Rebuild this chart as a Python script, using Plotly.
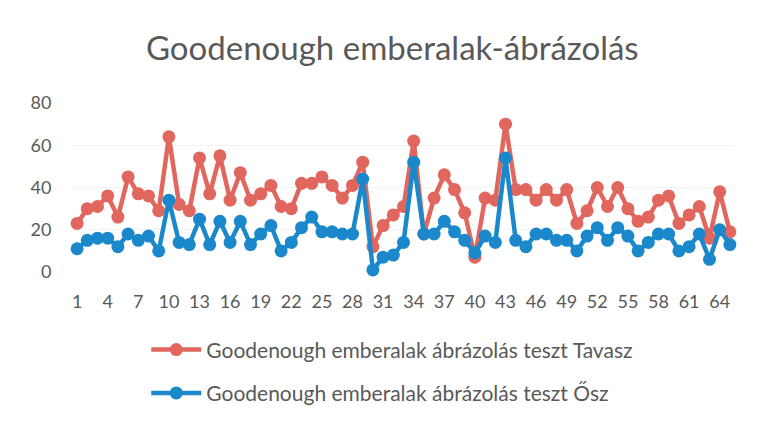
import plotly.graph_objects as go

x_vals = list(range(1, 66))
tavasz = [23, 30, 31, 36, 26, 45, 37, 36, 29, 64, 32, 29, 54, 37, 55, 34, 47, 34, 37, 41,
          31, 30, 42, 42, 45, 41, 35, 41, 52, 12, 22, 27, 31, 62, 18, 35, 46, 39, 28, 7,
          35, 34, 70, 39, 39, 34, 39, 34, 39, 23, 29, 40, 31, 40, 30, 24, 26, 34, 36, 23,
          27, 31, 16, 38, 19]
osz = [11, 15, 16, 16, 12, 18, 15, 17, 10, 34, 14, 13, 25, 13, 24, 14, 24, 13, 18, 22,
       10, 14, 21, 26, 19, 19, 18, 18, 44, 1, 7, 8, 14, 52, 18, 18, 24, 19, 15, 9,
       17, 14, 54, 15, 12, 18, 18, 15, 15, 10, 17, 21, 15, 21, 17, 10, 14, 18, 18, 10,
       12, 18, 6, 20, 13]
tick_vals = list(range(1, 66, 3))
y_ticks = [0, 20, 40, 60, 80]

red = "#E0665E"
blue = "#1B88CC"
grey = "#595959"
font = "Lato"

fig = go.Figure()
fig.add_trace(go.Scatter(x=x_vals, y=tavasz, mode="lines+markers",
                         name="Goodenough emberalak ábrázolás teszt Tavasz",
                         line=dict(color=red, width=4.5), marker=dict(size=13, color=red),
                         legendgroup="a", cliponaxis=False))
fig.add_trace(go.Scatter(x=x_vals, y=osz, mode="lines+markers",
                         name="Goodenough emberalak ábrázolás teszt Ősz",
                         line=dict(color=blue, width=4.5), marker=dict(size=13, color=blue),
                         legendgroup="b", cliponaxis=False))

fig.update_layout(
    width=758, height=423,
    paper_bgcolor="white", plot_bgcolor="white",
    margin=dict(l=64, r=31, t=95, b=159),
    title=dict(text="Goodenough emberalak-ábrázolás", x=0.507, xref="container",
               xanchor="center", y=1 - 40 / 423, yanchor="middle",
               font=dict(family=font, size=33, color=grey)),
    font=dict(family=font, color=grey, size=17),
    legend=dict(orientation="v", x=0.112, xanchor="left", y=-0.34, yanchor="top",
                font=dict(family=font, size=21, color=grey), traceorder="grouped",
                tracegroupgap=13, itemwidth=50),
    showlegend=True,
)
fig.update_xaxes(range=[0.5, 65.5], tickmode="array", tickvals=tick_vals,
                 ticktext=[str(v) for v in tick_vals], showgrid=False, zeroline=False,
                 showline=False, ticks="outside", ticklen=13, tickcolor="rgba(0,0,0,0)",
                 tickfont=dict(size=18, color=grey))
fig.update_yaxes(range=[0, 80], tickmode="array", tickvals=y_ticks, showgrid=True,
                 gridcolor="#f2f2f2", zeroline=False, showline=False, ticks="outside",
                 ticklen=16, tickcolor="rgba(0,0,0,0)",
                 tickfont=dict(size=18, color=grey))

fig.write_html("out.html")
